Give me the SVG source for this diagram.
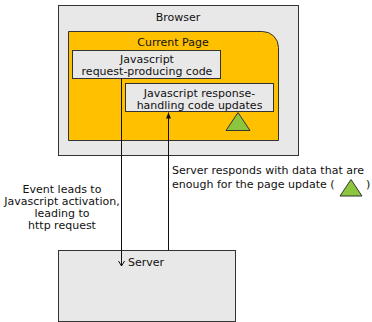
<svg xmlns="http://www.w3.org/2000/svg" width="372" height="322" viewBox="0 0 372 322">
<defs>
<style>
text{font-family:"DejaVu Sans",Verdana,sans-serif;font-size:11px;fill:#111}
.box{fill:#e8e8e8;stroke:#333;stroke-width:1}
.tri{fill:#8cc63f;stroke:#333;stroke-width:1}
.ln{fill:none;stroke:#111;stroke-width:1}
</style>
<marker id="open" markerWidth="8" markerHeight="8" refX="6" refY="4" orient="auto" markerUnits="userSpaceOnUse">
<path d="M1,1 L6,4 L1,7" fill="none" stroke="#111" stroke-width="1"/>
</marker>
<marker id="fill" markerWidth="8" markerHeight="8" refX="6" refY="4" orient="auto" markerUnits="userSpaceOnUse">
<path d="M0,1.5 L6,4 L0,6.5 Z" fill="#111"/>
</marker>
</defs>
<g id="browser">
<rect class="box" x="58.5" y="5.5" width="240" height="150"/>
<text x="178" y="21" text-anchor="middle">Browser</text>
</g>
<g id="current-page">
<path d="M68.5,31.5 H262.5 A16,16 0 0 1 278.5,47.5 V140.5 H68.5 Z" fill="#ffc000" stroke="#333"/>
<text x="173" y="46" text-anchor="middle">Current Page</text>
</g>
<g id="js-request">
<rect class="box" x="72.5" y="50.5" width="148" height="28"/>
<text x="147" y="63" text-anchor="middle">Javascript</text>
<text x="147" y="75" text-anchor="middle">request-producing code</text>
</g>
<g id="js-response">
<rect class="box" x="125.5" y="83.5" width="148" height="28"/>
<text x="199.5" y="97" text-anchor="middle">Javascript response-</text>
<text x="199.5" y="109" text-anchor="middle">handling code updates</text>
</g>
<g id="update-marker">
<polygon class="tri" points="238,112.5 226,130.5 250,130.5"/>
</g>
<g id="server">
<rect class="box" x="58.5" y="250.5" width="177" height="71"/>
<text x="128" y="266">Server</text>
</g>
<g id="connectors">
<line class="ln" x1="121.5" y1="78.5" x2="121.5" y2="266" marker-end="url(#open)"/>
<line class="ln" x1="168.5" y1="250.5" x2="168.5" y2="112.5" marker-end="url(#fill)"/>
</g>
<g id="labels">
<text x="172" y="174">Server responds with data that are</text>
<text x="172" y="188">enough for the page update (</text>
<text x="366" y="188">)</text>
<polygon class="tri" points="351,179.5 340,196 362,196"/>
<text x="62" y="193" text-anchor="middle">Event leads to</text>
<text x="62" y="205" text-anchor="middle">Javascript activation,</text>
<text x="62" y="217" text-anchor="middle">leading to</text>
<text x="62" y="229" text-anchor="middle">http request</text>
</g>
</svg>
